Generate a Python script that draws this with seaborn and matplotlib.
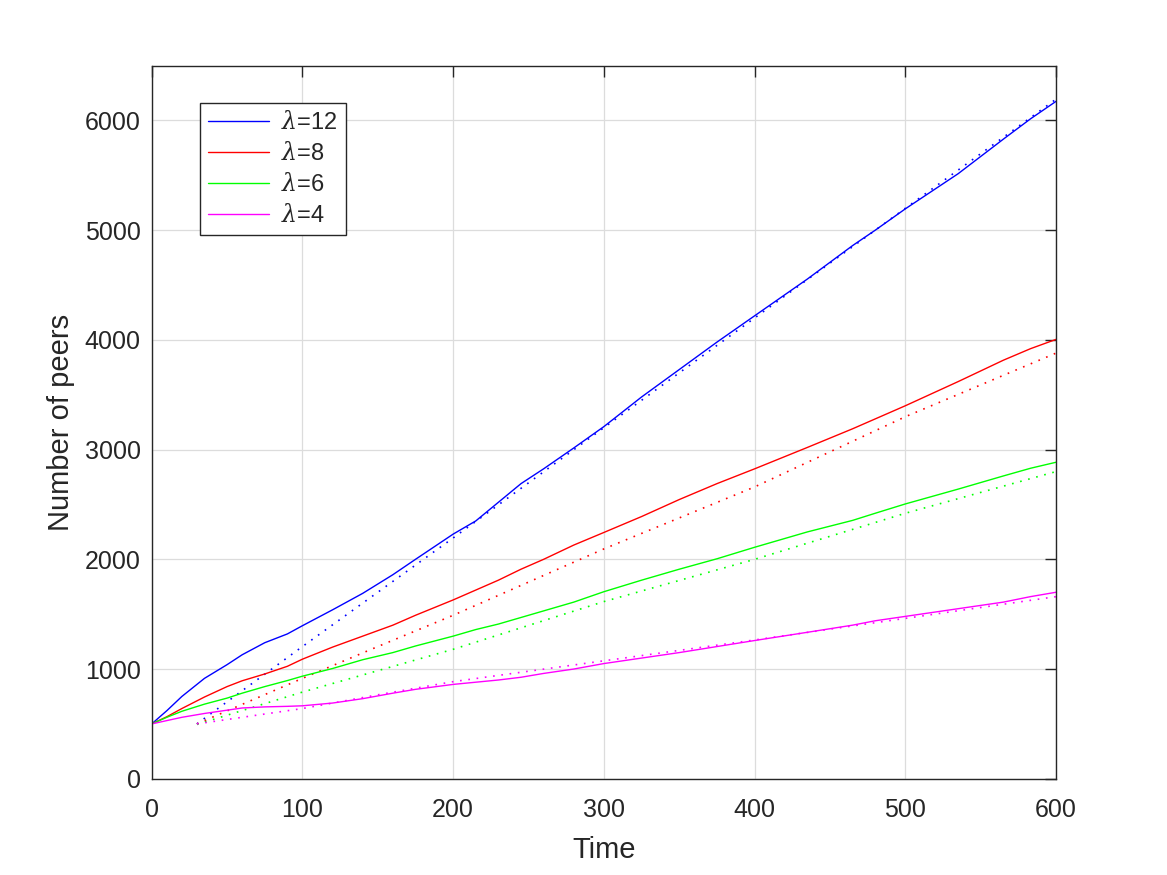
import seaborn as sns
import matplotlib.pyplot as plt
import pandas as pd
import numpy as np

# simulated number of peers (solid lines)
t_sim = [0, 10, 20, 35, 50, 60, 75, 90, 100, 120, 140, 160, 175, 200, 215, 230,
         245, 260, 280, 300, 325, 350, 375, 400, 435, 465, 480, 500, 535, 565, 583, 600]
sim_12 = [500, 620, 750, 915, 1040, 1130, 1240, 1320, 1395, 1540, 1690, 1860, 2000, 2230, 2350, 2520,
          2690, 2825, 3015, 3210, 3480, 3730, 3980, 4220, 4555, 4860, 5000, 5195, 5515, 5830, 6015, 6175]
sim_8 = [500, 565, 640, 745, 840, 893, 955, 1025, 1090, 1200, 1300, 1400, 1490, 1630, 1720, 1810,
         1910, 2000, 2130, 2245, 2390, 2545, 2690, 2825, 3020, 3190, 3280, 3400, 3620, 3815, 3920, 4005]
sim_6 = [500, 560, 615, 680, 735, 780, 840, 895, 935, 1005, 1085, 1150, 1210, 1300, 1360, 1410,
         1470, 1530, 1610, 1705, 1810, 1910, 2005, 2110, 2250, 2355, 2420, 2505, 2640, 2760, 2830, 2885]
sim_4 = [500, 530, 560, 595, 625, 645, 655, 660, 665, 690, 730, 780, 815, 860, 880, 900,
         925, 960, 1000, 1050, 1100, 1150, 1205, 1260, 1335, 1400, 1440, 1480, 1550, 1610, 1660, 1700]

# model curves (dotted lines)
t_model = [30, 100, 150, 200, 300, 400, 500, 600]
model_12 = [500, 1205, 1700, 2195, 3200, 4200, 5200, 6195]
model_8 = [500, 915, 1205, 1490, 2095, 2660, 3300, 3880]
model_6 = [495, 790, 985, 1180, 1615, 2000, 2420, 2800]
model_4 = [500, 640, 765, 885, 1075, 1265, 1462, 1660]

labels = [r"$\lambda$=12", r"$\lambda$=8", r"$\lambda$=6", r"$\lambda$=4"]
colors = ["#0000ff", "#ff0000", "#00ff00", "#ff00ff"]
sims = [sim_12, sim_8, sim_6, sim_4]
models = [model_12, model_8, model_6, model_4]

sns.set_style("white")
plt.rcParams["font.family"] = ["Liberation Sans", "DejaVu Sans"]
plt.rcParams["mathtext.fontset"] = "custom"
plt.rcParams["mathtext.it"] = "DejaVu Serif:italic"

fig = plt.figure(figsize=(11.67, 8.75), dpi=100)
ax = fig.add_axes([0.13, 0.11, 0.775, 0.815])

for lab, col, sim, mod in zip(labels, colors, sims, models):
    sns.lineplot(x=t_sim, y=sim, color=col, lw=1.0, ax=ax, label=lab, estimator=None)
    sns.lineplot(x=t_model, y=mod, color=col, lw=1.2, ax=ax, estimator=None,
                 linestyle=(0, (1, 4)), legend=False)

ax.set_xlim(0, 600)
ax.set_ylim(0, 6500)
ax.set_xticks(np.arange(0, 601, 100))
ax.set_yticks(np.arange(0, 6001, 1000))
ax.grid(True, color="#dcdcdc", lw=0.9)
ax.set_axisbelow(True)
for s in ax.spines.values():
    s.set_visible(True)
    s.set_color("#262626")
    s.set_linewidth(1.0)
ax.tick_params(direction="in", length=8, width=1.0, colors="#262626",
               labelsize=18, top=True, right=True)
ax.tick_params(axis="x", pad=14)
ax.tick_params(axis="y", pad=8)
ax.set_xlabel("Time", fontsize=21, color="#262626", labelpad=10)
ax.set_ylabel("Number of peers", fontsize=21, color="#262626", labelpad=7)

leg = ax.legend(loc="upper left", bbox_to_anchor=(0.053, 0.948), fontsize=17,
                frameon=True, fancybox=False, framealpha=1, edgecolor="#262626",
                handlelength=2.6, labelspacing=0.34, borderpad=0.35, handletextpad=0.5,
                borderaxespad=0)
leg.get_frame().set_linewidth(1.0)

plt.savefig("out.png", dpi=100)
plt.close()
